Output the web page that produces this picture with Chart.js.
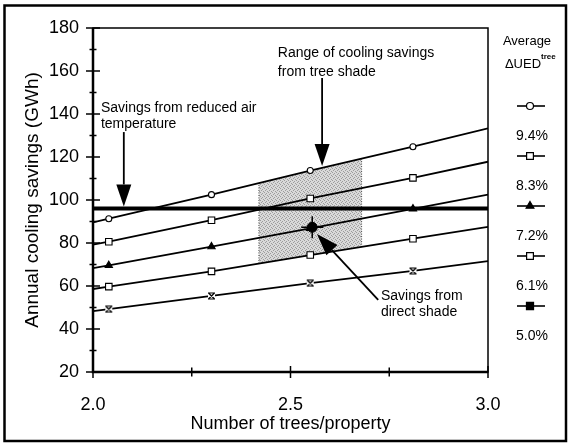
<!DOCTYPE html>
<html><head><meta charset="utf-8">
<script src="https://cdn.jsdelivr.net/npm/chart.js@4.4.0/dist/chart.umd.min.js"></script>
<style>html,body{margin:0;padding:0;background:#fff;}canvas{display:block;}</style>
</head><body>
<canvas id="c" width="570" height="445"></canvas>
<script>
// ---- data ----
const treeCounts = [2.0, 2.04, 2.3, 2.55, 2.81, 3.0];
const seriesLabels = ['9.4%', '8.3%', '7.2%', '6.1%', '5.0%'];
const s94 = [89.6, 91.3, 102.5, 113.7, 124.8, 133.3];
const s83 = [79.2, 80.6, 90.6, 100.7, 110.3, 117.8];
const s72 = [68.3, 69.6, 78.3, 86.8, 95.9, 102.5];
const s61 = [58.6, 59.7, 66.8, 74.4, 82.0, 87.5];
const s50 = [48.3, 49.2, 55.4, 61.3, 67.0, 71.6];
const airTempX = [2.0, 3.0];
const airTempY = [96, 96];
const shadeX = [2.42, 2.68];
const shadeTop = [107.8, 119.1];
const shadeBottom = [70.5, 78.1];
const directShadeX = [2.555];
const directShadeY = [87.3];
const xTicks = [2.0, 2.5, 3.0];
const xMinor = [2.25, 2.75];
const yTicks = [20, 40, 60, 80, 100, 120, 140, 160, 180];
const yMinor = [30, 50, 70, 90, 110, 130, 150, 170];

const FONT = '"Liberation Sans", Arial, Helvetica, sans-serif';

function bowtie() {
  const c = document.createElement('canvas'); c.width = 9; c.height = 8;
  const g = c.getContext('2d');
  g.fillStyle = '#fff'; g.fillRect(1, 1, 7, 6);
  g.strokeStyle = '#000'; g.lineWidth = 1.2;
  g.beginPath();
  g.moveTo(1, 1); g.lineTo(8, 1); g.moveTo(1, 7); g.lineTo(8, 7);
  g.moveTo(1.5, 1); g.lineTo(7.5, 7); g.moveTo(7.5, 1); g.lineTo(1.5, 7);
  g.stroke();
  return c;
}
function shadePattern() {
  const c = document.createElement('canvas'); c.width = 4; c.height = 4;
  const g = c.getContext('2d');
  g.fillStyle = '#d9d9d9'; g.fillRect(0, 0, 4, 4);
  g.fillStyle = '#9c9c9c';
  g.fillRect(0, 0, 1, 1); g.fillRect(2, 1, 1, 1); g.fillRect(1, 2, 1, 1); g.fillRect(3, 3, 1, 1);
  return g.createPattern(c, 'repeat');
}

const pts = (xs, ys) => xs.map((x, i) => ({x, y: ys[i]}));
const last = treeCounts.length - 1;
const rad = r => (ctx) => (ctx.dataIndex === 0 || ctx.dataIndex === last) ? 0 : r;

const seriesVals = [s94, s83, s72, s61, s50];
const styles = [
  {pointStyle: 'circle', r: 3, bg: '#fff', lg: {pointStyle: 'circle', radius: 3.5, fill: '#fff'}},
  {pointStyle: 'rect', r: 4.6, bg: '#fff', lg: {pointStyle: 'rect', radius: 4.8, fill: '#fff'}},
  {pointStyle: 'triangle', r: 4.2, bg: '#000', lg: {pointStyle: 'triangle', radius: 4.5, fill: '#000'}},
  {pointStyle: 'rect', r: 4.6, bg: '#fff', lg: {pointStyle: 'rect', radius: 4.8, fill: '#fff'}},
  {pointStyle: bowtie(), r: 4, bg: '#fff', lg: {pointStyle: 'rect', radius: 5, fill: '#000'}}
];

const datasets = [
  {label: 'shadeTop', data: pts(shadeX, shadeTop), showLine: true, fill: '+1', backgroundColor: shadePattern(),
   borderWidth: 0, borderColor: 'rgba(0,0,0,0)', pointRadius: 0, order: 10},
  {label: 'shadeBottom', data: pts(shadeX, shadeBottom), showLine: true, fill: false, borderWidth: 0,
   borderColor: 'rgba(0,0,0,0)', pointRadius: 0, order: 10},
  {label: 'edgeL', data: pts([shadeX[0], shadeX[0]], [shadeBottom[0], shadeTop[0]]), showLine: true, borderColor: '#444',
   borderWidth: 1, borderDash: [1, 1.5], pointRadius: 0, order: 9},
  {label: 'edgeR', data: pts([shadeX[1], shadeX[1]], [shadeBottom[1], shadeTop[1]]), showLine: true, borderColor: '#444',
   borderWidth: 1, borderDash: [1, 1.5], pointRadius: 0, order: 9},
];
seriesVals.forEach((vals, i) => {
  datasets.push({
    label: seriesLabels[i], data: pts(treeCounts, vals), showLine: true, borderColor: '#000', borderWidth: 1.8,
    pointStyle: styles[i].pointStyle, pointRadius: rad(styles[i].r), pointBackgroundColor: styles[i].bg,
    pointBorderColor: '#000', pointBorderWidth: 1.1, fill: false, tension: 0, order: 3
  });
});
datasets.push({label: 'air', data: pts(airTempX, airTempY), showLine: true, borderColor: '#000', borderWidth: 4,
  pointRadius: 0, order: 2});
datasets.push({label: 'direct', data: pts(directShadeX, directShadeY), showLine: false, pointStyle: 'circle',
  pointRadius: 5, pointBackgroundColor: '#000', pointBorderColor: '#000', order: 1});
datasets.push({label: 'directCross', data: pts(directShadeX, directShadeY), showLine: false, pointStyle: 'cross',
  pointRadius: 11, pointBorderColor: '#000', pointBorderWidth: 1.5, order: 1});

// annotation placement (data coordinates)
const notes = [
  {x: 2.02, ys: [142.8, 135.4], lines: ['Savings from reduced air', 'temperature']},
  {x: 2.468, ys: [168.4, 159.5], lines: ['Range of cooling savings', 'from tree shade']},
  {x: 2.729, ys: [55.3, 47.9], lines: ['Savings from', 'direct shade']}
];
const arrows = [
  {from: [2.078, 131.6], to: [2.078, 97.0]},
  {from: [2.58, 156.7], to: [2.58, 115.8]},
  {from: [2.722, 53.5], to: [2.567, 84.2]}
];

function line(ctx, x1, y1, x2, y2) { ctx.beginPath(); ctx.moveTo(x1, y1); ctx.lineTo(x2, y2); ctx.stroke(); }
function arrow(ctx, x1, y1, x2, y2, hl, hw) {
  const dx = x2 - x1, dy = y2 - y1, L = Math.hypot(dx, dy), ux = dx / L, uy = dy / L;
  const bx = x2 - ux * hl, by = y2 - uy * hl;
  ctx.lineWidth = 1.8; line(ctx, x1, y1, bx, by);
  ctx.beginPath(); ctx.moveTo(x2, y2);
  ctx.lineTo(bx - uy * hw / 2, by + ux * hw / 2);
  ctx.lineTo(bx + uy * hw / 2, by - ux * hw / 2);
  ctx.closePath(); ctx.fill();
}

const overlay = {
  id: 'overlay',
  afterDraw(chart) {
    const {ctx, chartArea: a, scales: {x, y}} = chart;
    ctx.save();
    ctx.strokeStyle = '#000'; ctx.fillStyle = '#000';
    // outer frame
    ctx.lineWidth = 2.5; ctx.strokeRect(4.5, 5.5, 561.5, 435.5);
    // plot box
    ctx.lineWidth = 1.5; ctx.strokeRect(a.left, a.top, a.right - a.left, a.bottom - a.top);
    ctx.lineWidth = 2.5;
    ctx.beginPath(); ctx.moveTo(a.left, a.top); ctx.lineTo(a.left, a.bottom); ctx.lineTo(a.right, a.bottom); ctx.stroke();
    // crossing tick marks
    ctx.lineWidth = 1.5;
    yTicks.forEach(v => { const p = y.getPixelForValue(v); line(ctx, a.left - 7, p, a.left + 7, p); });
    yMinor.forEach(v => { const p = y.getPixelForValue(v); line(ctx, a.left - 3.5, p, a.left + 3.5, p); });
    xTicks.forEach(v => { const p = x.getPixelForValue(v); line(ctx, p, a.bottom - 6, p, a.bottom + 6); });
    xMinor.forEach(v => { const p = x.getPixelForValue(v); line(ctx, p, a.bottom - 4.5, p, a.bottom + 4.5); });
    // axis titles
    ctx.textAlign = 'center'; ctx.textBaseline = 'middle';
    ctx.font = '18px ' + FONT;
    ctx.fillText('Number of trees/property', (a.left + a.right) / 2, 424);
    ctx.save(); ctx.translate(33, (a.top + a.bottom) / 2); ctx.rotate(-Math.PI / 2);
    ctx.font = '19px ' + FONT;
    ctx.fillText('Annual cooling savings (GWh)', 0, 0); ctx.restore();
    // annotations
    ctx.textAlign = 'left'; ctx.font = '14px ' + FONT;
    notes.forEach(n => n.lines.forEach((t, i) => ctx.fillText(t, x.getPixelForValue(n.x), y.getPixelForValue(n.ys[i]))));
    arrows.forEach(ar => arrow(ctx, x.getPixelForValue(ar.from[0]), y.getPixelForValue(ar.from[1]),
      x.getPixelForValue(ar.to[0]), y.getPixelForValue(ar.to[1]), 22, 15));
    // legend
    const lx = a.right + 42;
    ctx.textAlign = 'center';
    ctx.font = '13px ' + FONT;
    ctx.fillText('Average', lx - 3, 41);
    ctx.fillText('\u0394UED', lx - 7, 64);
    ctx.font = 'bold 8px ' + FONT; ctx.textAlign = 'left';
    ctx.fillText('tree', lx + 11, 57);
    seriesLabels.forEach((lab, i) => {
      const iy = 106 + 50 * i;
      ctx.lineWidth = 1.6; line(ctx, lx - 13, iy, lx + 15, iy);
      const lg = styles[i].lg;
      ctx.fillStyle = lg.fill; ctx.lineWidth = 1.2;
      Chart.helpers.drawPoint(ctx, {pointStyle: lg.pointStyle, radius: lg.radius, rotation: 0, borderWidth: 1.2}, lx, iy);
      ctx.fillStyle = '#000';
      ctx.font = '14px ' + FONT; ctx.textAlign = 'center';
      ctx.fillText(lab, lx + 2, iy + 30);
    });
    ctx.restore();
  }
};

new Chart(document.getElementById('c'), {
  type: 'scatter',
  data: {datasets},
  options: {
    responsive: false, animation: false,
    layout: {padding: {top: 28, right: 82, left: 0, bottom: 0}},
    plugins: {legend: {display: false}, tooltip: {enabled: false}},
    elements: {line: {tension: 0}},
    scales: {
      x: {type: 'linear', min: 2, max: 3,
        afterFit(s) { s.height = 73; },
        afterBuildTicks(s) { s.ticks = xTicks.map(v => ({value: v})); },
        grid: {display: false, drawTicks: false}, border: {display: false},
        ticks: {padding: 22, color: '#000', font: {size: 18, family: FONT}, maxRotation: 0, autoSkip: false,
          callback: v => Number(v).toFixed(1)}},
      y: {type: 'linear', min: 20, max: 180,
        afterFit(s) { s.width = 93; },
        afterBuildTicks(s) { s.ticks = yTicks.map(v => ({value: v})); },
        grid: {display: false, drawTicks: false}, border: {display: false},
        ticks: {padding: 14, color: '#000', font: {size: 18, family: FONT}, autoSkip: false}}
    }
  },
  plugins: [overlay]
});
</script>
</body></html>
